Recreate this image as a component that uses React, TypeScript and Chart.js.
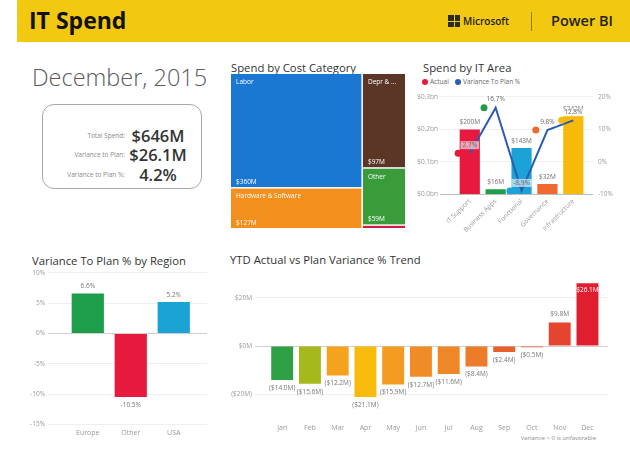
import React, { useEffect, useRef } from "react";
import { Chart, registerables } from "chart.js";
Chart.register(...registerables);

const baseFont = "'Open Sans', 'Noto Sans', sans-serif";
Chart.defaults.font.family = baseFont;
Chart.defaults.color = "#9a9a9a";

// ---------- KPI ----------
const kpiLabels = ["Total Spend:", "Variance to Plan:", "Variance to Plan %:"];
const kpiValues = ["$646M", "$26.1M", "4.2%"];

// ---------- Spend by Cost Category (treemap) ----------
const costCategories = ["Labor", "Hardware & Software", "Depr & Amortization", "Other", "Travel"];
const costValues = [360, 127, 97, 59, 3];
const costColumnGroups = [[0, 1], [2, 3, 4]];
const costColors = ["#1A78D2", "#F28F1D", "#5B3526", "#3A9B3A", "#D01C44"];

// ---------- Spend by IT Area ----------
const itAreas = ["IT Support", "Business Apps", "Functional", "Governance", "Infrastructure"];
const itActualBn = [0.2, 0.016, 0.143, 0.032, 0.242];
const itVariancePct = [2.7, 16.7, -8.9, 9.8, 12.8];
const itColors = ["#E8193F", "#1E9E4A", "#1BA3D6", "#F06A30", "#F7B90A"];
const itLeftTicks = [0, 0.1, 0.2, 0.3];
const itRightTicks = [-10, 0, 10, 20];

// ---------- Variance To Plan % by Region ----------
const regions = ["Europe", "Other", "USA"];
const regionVariancePct = [6.6, -10.5, 5.2];
const regionColors = ["#1E9E4A", "#E8193F", "#1BA3D6"];
const regionTicks = [-15, -10, -5, 0, 5, 10];

// ---------- YTD Actual vs Plan Variance % Trend ----------
const months = ["Jan", "Feb", "Mar", "Apr", "May", "Jun", "Jul", "Aug", "Sep", "Oct", "Nov", "Dec"];
const ytdVarianceM = [-14.0, -15.6, -12.2, -21.1, -15.9, -12.7, -11.6, -8.4, -2.4, -0.5, 9.8, 26.1];
const ytdColors = ["#2FA046", "#A5B81C", "#F5A31F", "#F7BB0D", "#F49B22", "#F08C25", "#EE8726", "#EC7B2A", "#E8602E", "#E65A2E", "#E5452E", "#E01E30"];
const ytdTicks = [-20, 0, 20];

const fixTicks = (values: number[]) => (scale: any) => {
  scale.ticks = values.map((v) => ({ value: v }));
};

function fitText(ctx: CanvasRenderingContext2D, text: string, maxW: number) {
  if (ctx.measureText(text).width <= maxW) return text;
  let t = text;
  while (t.length > 1 && ctx.measureText(t + " ...").width > maxW) t = t.slice(0, -1);
  return t.trimEnd() + " ...";
}

const treemapPlugin = {
  id: "treemapCells",
  afterDatasetsDraw(chart: any) {
    const { ctx } = chart;
    const x = chart.scales.x;
    const y = chart.scales.y;
    const total = costValues.reduce((a, b) => a + b, 0);
    const gap = 1.5;
    let xs = 0;
    ctx.save();
    costColumnGroups.forEach((group) => {
      const colSum = group.reduce((s, i) => s + costValues[i], 0);
      const xe = xs + colSum / total;
      let ys = 0;
      group.forEach((i) => {
        const ye = ys + costValues[i] / colSum;
        const left = x.getPixelForValue(xs) + (xs > 0 ? gap / 2 : 0);
        const right = x.getPixelForValue(xe) - (xe < 0.9999 ? gap / 2 : 0);
        const top = y.getPixelForValue(ys) + (ys > 0 ? gap / 2 : 0);
        const bottom = y.getPixelForValue(ye) - (ye < 0.9999 ? gap / 2 : 0);
        ctx.fillStyle = costColors[i];
        ctx.fillRect(left, top, right - left, bottom - top);
        const h = bottom - top;
        const w = right - left;
        if (h > 20) {
          ctx.fillStyle = "#ffffff";
          ctx.font = `6.5px ${baseFont}`;
          ctx.textBaseline = "middle";
          ctx.textAlign = "left";
          ctx.fillText(fitText(ctx, costCategories[i], w - 9), left + 5, top + 8);
          ctx.fillText(`$${costValues[i]}M`, left + 5, bottom - 5);
        }
        ys = ye;
      });
      xs = xe;
    });
    ctx.restore();
  },
};

const itLabelPlugin = {
  id: "itLabels",
  afterDatasetsDraw(chart: any) {
    const { ctx } = chart;
    ctx.save();
    ctx.font = `6.5px ${baseFont}`;
    ctx.textAlign = "center";
    ctx.textBaseline = "middle";
    const bars = chart.getDatasetMeta(0).data;
    bars.forEach((el: any, i: number) => {
      ctx.fillStyle = "#707070";
      ctx.fillText(`$${Math.round(itActualBn[i] * 1000)}M`, el.x, el.y - 7);
    });
    const pts = chart.getDatasetMeta(1).data;
    pts.forEach((el: any, i: number) => {
      const t = `${itVariancePct[i].toFixed(1)}%`;
      const w = ctx.measureText(t).width + 4;
      ctx.fillStyle = "rgba(255,255,255,0.6)";
      ctx.fillRect(el.x - w / 2, el.y - 12, w, 8);
      ctx.fillStyle = "#666666";
      ctx.fillText(t, el.x, el.y - 8);
    });
    ctx.restore();
  },
};

const regionLabelPlugin = {
  id: "regionLabels",
  afterDatasetsDraw(chart: any) {
    const { ctx } = chart;
    ctx.save();
    ctx.font = `6.5px ${baseFont}`;
    ctx.textAlign = "center";
    ctx.textBaseline = "middle";
    ctx.fillStyle = "#777777";
    chart.getDatasetMeta(0).data.forEach((el: any, i: number) => {
      const v = regionVariancePct[i];
      ctx.fillText(`${v.toFixed(1)}%`, el.x, v >= 0 ? el.y - 7 : el.y + 8);
    });
    ctx.restore();
  },
};

const ytdLabelPlugin = {
  id: "ytdLabels",
  afterDatasetsDraw(chart: any) {
    const { ctx, chartArea } = chart;
    ctx.save();
    ctx.font = `6.5px ${baseFont}`;
    ctx.textAlign = "center";
    ctx.textBaseline = "middle";
    chart.getDatasetMeta(0).data.forEach((el: any, i: number) => {
      const v = ytdVarianceM[i];
      if (v < 0) {
        ctx.fillStyle = "#777777";
        ctx.fillText(`($${Math.abs(v).toFixed(1)}M)`, el.x, el.y + 8);
      } else if (el.y - 10 < chartArea.top + 8) {
        ctx.fillStyle = "#ffffff";
        ctx.fillText(`$${v.toFixed(1)}M`, el.x, el.y + 7);
      } else {
        ctx.fillStyle = "#777777";
        ctx.fillText(`$${v.toFixed(1)}M`, el.x, el.y - 8);
      }
    });
    ctx.restore();
  },
};

const commonOptions = (padding: any) => ({
  responsive: false,
  animation: false as const,
  devicePixelRatio: 1,
  layout: { padding, autoPadding: false },
  plugins: { legend: { display: false }, tooltip: { enabled: false }, title: { display: false } },
});

function Txt(props: { x: number; cy: number; size: number; color?: string; weight?: number; align?: "left" | "right" | "center"; w?: number; children: any }) {
  const { x, cy, size, color = "#333", weight = 400, align = "left", w = 240, children } = props;
  const h = Math.ceil(size * 1.6);
  let left = x;
  if (align === "right") left = x - w;
  if (align === "center") left = x - w / 2;
  return (
    <div
      style={{
        position: "absolute",
        left,
        top: cy - h / 2,
        width: w,
        height: h,
        lineHeight: `${h}px`,
        fontSize: size,
        color,
        fontWeight: weight,
        textAlign: align,
        whiteSpace: "nowrap",
        fontFamily: baseFont,
      }}
    >
      {children}
    </div>
  );
}

export default function App() {
  const treeRef = useRef<HTMLCanvasElement>(null);
  const itRef = useRef<HTMLCanvasElement>(null);
  const regRef = useRef<HTMLCanvasElement>(null);
  const ytdRef = useRef<HTMLCanvasElement>(null);

  useEffect(() => {
    const charts: Chart[] = [];

    charts.push(
      new Chart(treeRef.current!, {
        type: "scatter",
        data: { datasets: [{ data: [] }] },
        options: {
          ...commonOptions(0),
          scales: {
            x: { type: "linear", min: 0, max: 1, display: false },
            y: { type: "linear", min: 0, max: 1, reverse: true, display: false },
          },
        } as any,
        plugins: [treemapPlugin],
      })
    );

    charts.push(
      new Chart(itRef.current!, {
        type: "bar",
        data: {
          datasets: [
            {
              type: "bar",
              data: itActualBn.map((v, i) => ({ x: i, y: v })),
              backgroundColor: itColors,
              xAxisID: "x",
              yAxisID: "y",
              order: 3,
              barPercentage: 0.78,
              categoryPercentage: 1,
            },
            {
              type: "line",
              data: itVariancePct.map((v, i) => ({ x: i, y: v })),
              borderColor: "#2B5CB4",
              borderWidth: 2,
              pointRadius: 0,
              xAxisID: "x",
              yAxisID: "y2",
              order: 2,
            },
            {
              type: "scatter",
              data: itVariancePct.map((v, i) => ({ x: i - 0.45, y: v })),
              backgroundColor: itColors,
              borderWidth: 0,
              pointRadius: 3.5,
              xAxisID: "x",
              yAxisID: "y2",
              order: 1,
            },
          ],
        } as any,
        options: {
          ...commonOptions({ top: 8.5 }),
          scales: {
            x: {
              type: "linear",
              offset: false,
              min: -1.15,
              max: 4.76,
              grid: { display: false, drawTicks: false, offset: false },
              border: { display: false },
              afterBuildTicks: fixTicks(itAreas.map((_, i) => i)),
              afterFit: (s: any) => {
                s.height = 45.5;
              },
              ticks: {
                autoSkip: false,
                minRotation: 45,
                maxRotation: 45,
                padding: 3,
                font: { size: 6.5 },
                color: "#9a9a9a",
                callback: (v: any) => itAreas[v],
              },
            },
            y: {
              type: "linear",
              position: "left",
              min: 0,
              max: 0.3,
              border: { display: false },
              grid: {
                drawTicks: false,
                color: (c: any) => (c.tick && c.tick.value === 0 ? "#bdbdbd" : "#f0f0f0"),
              },
              afterBuildTicks: fixTicks(itLeftTicks),
              afterFit: (s: any) => {
                s.width = 25;
              },
              ticks: { padding: 2, font: { size: 6.5 }, color: "#9a9a9a", callback: (v: any) => `$${Number(v).toFixed(1)}bn` },
            },
            y2: {
              type: "linear",
              position: "right",
              min: -10,
              max: 20,
              border: { display: false },
              grid: { display: false, drawTicks: false },
              afterBuildTicks: fixTicks(itRightTicks),
              afterFit: (s: any) => {
                s.width = 25;
              },
              ticks: { padding: 5, font: { size: 6.5 }, color: "#9a9a9a", callback: (v: any) => `${v}%` },
            },
          },
        } as any,
        plugins: [itLabelPlugin],
      })
    );

    charts.push(
      new Chart(regRef.current!, {
        type: "bar",
        data: {
          datasets: [
            {
              data: regionVariancePct.map((v, i) => ({ x: i, y: v })),
              backgroundColor: regionColors,
              barPercentage: 0.75,
              categoryPercentage: 1,
            },
          ],
        } as any,
        options: {
          ...commonOptions({ top: 5, right: 8 }),
          scales: {
            x: {
              type: "linear",
              offset: false,
              min: -0.926,
              max: 2.774,
              grid: { display: false, drawTicks: false, offset: false },
              border: { display: false },
              afterBuildTicks: fixTicks(regions.map((_, i) => i)),
              afterFit: (s: any) => {
                s.height = 20.7;
              },
              ticks: { autoSkip: false, maxRotation: 0, padding: 4.8, font: { size: 7 }, color: "#9a9a9a", callback: (v: any) => regions[v] },
            },
            y: {
              type: "linear",
              min: -15,
              max: 10,
              border: { display: false },
              grid: {
                drawTicks: false,
                color: (c: any) => (c.tick && c.tick.value === 0 ? "#cfcfcf" : "#efefef"),
              },
              afterBuildTicks: fixTicks(regionTicks),
              afterFit: (s: any) => {
                s.width = 28;
              },
              ticks: { padding: 3, font: { size: 6.5 }, color: "#9a9a9a", callback: (v: any) => `${v}%` },
            },
          },
        } as any,
        plugins: [regionLabelPlugin],
      })
    );

    charts.push(
      new Chart(ytdRef.current!, {
        type: "bar",
        data: {
          datasets: [
            {
              data: ytdVarianceM.map((v, i) => ({ x: i, y: v })),
              backgroundColor: ytdColors,
              barPercentage: 0.79,
              categoryPercentage: 1,
            },
          ],
        } as any,
        options: {
          ...commonOptions({ top: 4.6, right: 7 }),
          scales: {
            x: {
              type: "linear",
              offset: false,
              min: -0.98,
              max: 11.74,
              grid: { display: false, drawTicks: false, offset: false },
              border: { display: false },
              afterBuildTicks: fixTicks(months.map((_, i) => i)),
              afterFit: (s: any) => {
                s.height = 26.5;
              },
              ticks: { autoSkip: false, maxRotation: 0, padding: 5.3, font: { size: 7 }, color: "#9a9a9a", callback: (v: any) => months[v] },
            },
            y: {
              type: "linear",
              min: -30,
              max: 32,
              border: { display: false },
              grid: {
                drawTicks: false,
                color: (c: any) => (c.tick && c.tick.value === 0 ? "#cfcfcf" : "#efefef"),
              },
              afterBuildTicks: fixTicks(ytdTicks),
              afterFit: (s: any) => {
                s.width = 33;
              },
              ticks: {
                padding: 3,
                font: { size: 6.5 },
                color: "#9a9a9a",
                callback: (v: any) => (v < 0 ? `($${-v}M)` : `$${v}M`),
              },
            },
          },
        } as any,
        plugins: [ytdLabelPlugin],
      })
    );

    return () => charts.forEach((c) => c.destroy());
  }, []);

  const canvasStyle = (l: number, t: number, w: number, h: number): React.CSSProperties => ({
    position: "absolute",
    left: l,
    top: t,
    width: w,
    height: h,
  });

  return (
    <div style={{ position: "absolute", left: 0, top: 0, width: 630, height: 457, background: "#fff", overflow: "hidden", fontFamily: baseFont }}>
      {/* header */}
      <div style={{ position: "absolute", left: 17, top: 0, width: 613, height: 42, background: "#F2C811" }} />
      <Txt x={29} cy={20.5} size={23} weight={700} color="#111">IT Spend</Txt>
      <div style={{ position: "absolute", left: 448, top: 15, width: 12, height: 12 }}>
        <div style={{ position: "absolute", left: 0, top: 0, width: 5.5, height: 5.5, background: "#2b2b2b" }} />
        <div style={{ position: "absolute", left: 6.5, top: 0, width: 5.5, height: 5.5, background: "#2b2b2b" }} />
        <div style={{ position: "absolute", left: 0, top: 6.5, width: 5.5, height: 5.5, background: "#2b2b2b" }} />
        <div style={{ position: "absolute", left: 6.5, top: 6.5, width: 5.5, height: 5.5, background: "#2b2b2b" }} />
      </div>
      <Txt x={463} cy={21} size={10} weight={600} color="#222">Microsoft</Txt>
      <div style={{ position: "absolute", left: 531, top: 12, width: 1, height: 19, background: "#8c7a2a" }} />
      <Txt x={551} cy={21} size={14.5} weight={600} color="#222">Power BI</Txt>

      {/* date + KPI card */}
      <Txt x={32} cy={77} size={23.5} weight={300} color="#5a5a5a">December, 2015</Txt>
      <div style={{ position: "absolute", left: 42, top: 104, width: 160, height: 85, border: "1px solid #a8a8a8", borderRadius: 12, boxSizing: "border-box" }} />
      {kpiLabels.map((l, i) => (
        <Txt key={l} x={125} cy={135 + i * 19.5} size={6.5} color="#8a8a8a" align="right" w={100}>
          {l}
        </Txt>
      ))}
      {kpiValues.map((v, i) => (
        <Txt key={v} x={158} cy={135 + i * 19.5} size={16.5} weight={600} color="#333" align="center" w={80}>
          {v}
        </Txt>
      ))}

      {/* titles */}
      <Txt x={231} cy={67} size={11.3} color="#333">Spend by Cost Category</Txt>
      <Txt x={423} cy={67} size={11.3} color="#333">Spend by IT Area</Txt>
      <Txt x={32} cy={260} size={11.3} color="#333">Variance To Plan % by Region</Txt>
      <Txt x={230} cy={259.5} size={11.3} color="#333">YTD Actual vs Plan Variance % Trend</Txt>

      {/* IT area legend */}
      <div style={{ position: "absolute", left: 422, top: 78.7, width: 6, height: 6, borderRadius: 3, background: itColors[0] }} />
      <Txt x={430} cy={81.7} size={6.5} color="#666">Actual</Txt>
      <div style={{ position: "absolute", left: 455, top: 78.7, width: 6, height: 6, borderRadius: 3, background: "#2B5CB4" }} />
      <Txt x={463} cy={81.7} size={6.5} color="#666">Variance To Plan %</Txt>

      {/* footnote */}
      <Txt x={596} cy={438} size={6} color="#8a8a8a" align="right" w={120}>Variance &gt; 0 is unfavorable</Txt>

      <canvas ref={treeRef} width={174} height={154} style={canvasStyle(231, 74, 174, 154)} />
      <canvas ref={itRef} width={203} height={152} style={canvasStyle(415, 88, 203, 152)} />
      <canvas ref={regRef} width={195} height={179} style={canvasStyle(20, 266, 195, 179)} />
      <canvas ref={ytdRef} width={393} height={183} style={canvasStyle(222, 262, 393, 183)} />
    </div>
  );
}
